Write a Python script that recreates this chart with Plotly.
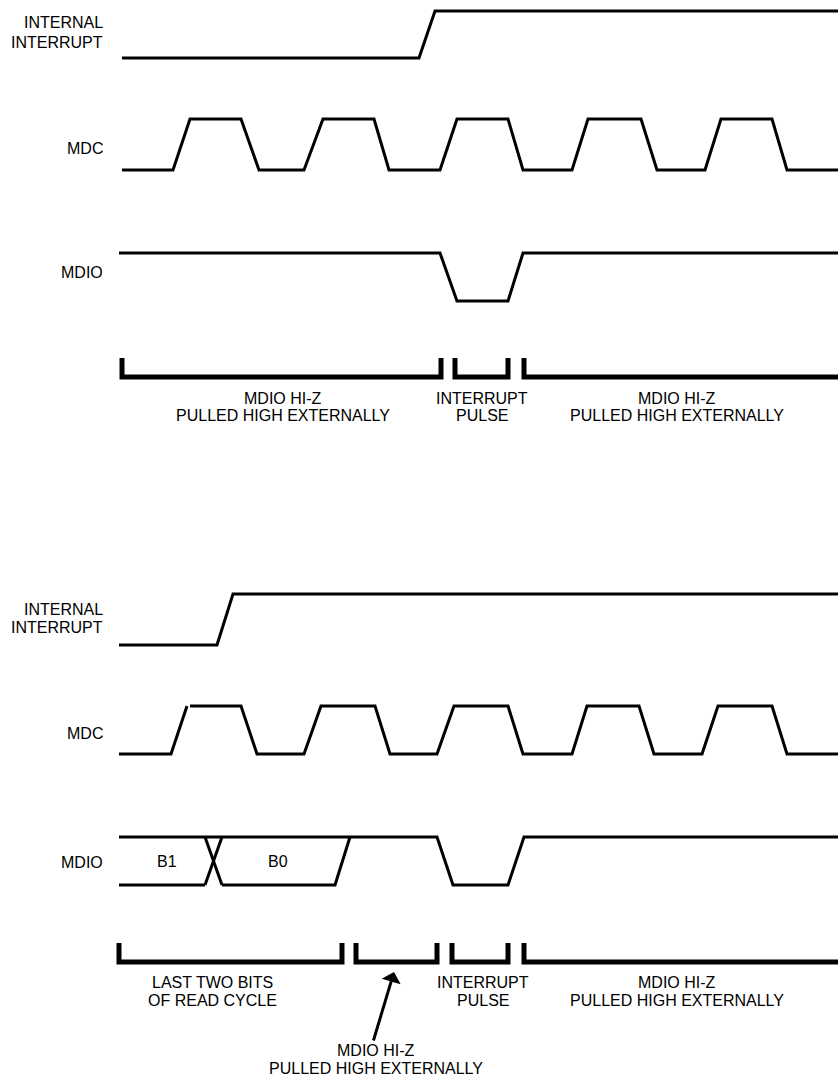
import plotly.graph_objects as go

W, H = 838, 1082
FONT = dict(family="Liberation Sans, Arial, Helvetica, sans-serif", size=16, color="black")

# ---------------- data (pixel timeline units) ----------------
# Each signal: start x, end x, low level y, high level y, starting state, transitions (begin, end)
top_int = dict(x0=122, x1=838, low=58, high=11, start="low", edges=[(419, 435)])
top_mdc = dict(x0=122, x1=838, low=170, high=119, start="low",
               edges=[(173, 190), (241, 259), (304, 323), (374, 389), (440, 457),
                      (508, 523), (572, 588), (641, 657), (705, 721), (772, 787)])
top_mdio = dict(x0=119, x1=838, low=301, high=253, start="high", edges=[(440, 457), (508, 523)])

bot_int = dict(x0=119, x1=838, low=645, high=594, start="low", edges=[(217, 233)])
bot_mdc = dict(x0=119, x1=838, low=754, high=706, start="low",
               edges=[(171, 187), (241, 257), (304, 321), (375, 390), (437, 454),
                      (508, 523), (572, 587), (639, 654), (702, 718), (772, 787)],
               gaps={0: 3})
bot_mdio = dict(x0=350, x1=838, low=885, high=837, start="high", edges=[(437, 453), (508, 524)])
# bus section of bottom MDIO (B1 / B0 bits)
bus_x0, bus_cross = 119, (205, 222)
bus_end_low, bus_end_high = 335, 350
bus_labels = ["B1", "B0"]
bus_label_x = [167, 278]

# Brackets: (left, right) spans, tick top / bar y
top_brackets = [(122, 441), (455, 508), (524, 845)]
top_br_y = (358, 377)
top_br_text = [["MDIO HI-Z", "PULLED HIGH EXTERNALLY"], ["INTERRUPT", "PULSE"],
               ["MDIO HI-Z", "PULLED HIGH EXTERNALLY"]]
top_br_text_x = [283, 482, 677]
top_br_text_y = [398, 415]

bot_brackets = [(119, 342), (356, 437), (452, 508), (524, 845)]
bot_br_y = (943, 962)
bot_br_text = [["LAST TWO BITS", "OF READ CYCLE"], None, ["INTERRUPT", "PULSE"],
               ["MDIO HI-Z", "PULLED HIGH EXTERNALLY"]]
bot_br_text_x = [212, None, 483, 677]
bot_br_text_y = [982, 1000]

arrow_tail, arrow_tip = (373, 1042), (394, 972)
arrow_text = ["MDIO HI-Z", "PULLED HIGH EXTERNALLY"]
arrow_text_x, arrow_text_y = 376, [1050, 1068]

# signal names: (lines, y positions)
signal_labels = [
    (["INTERNAL", "INTERRUPT"], [22, 42]),
    (["MDC"], [148]),
    (["MDIO"], [272]),
    (["INTERNAL", "INTERRUPT"], [609, 627]),
    (["MDC"], [733]),
    (["MDIO"], [862]),
]
label_right = 105


def wave(sig):
    lv = {"low": sig["low"], "high": sig["high"]}
    gaps = sig.get("gaps", {})
    state = sig["start"]
    xs, ys = [sig["x0"]], [lv[state]]
    for i, (a, b) in enumerate(sig["edges"]):
        xs.append(a); ys.append(lv[state])
        state = "high" if state == "low" else "low"
        xs.append(b); ys.append(lv[state])
        if i in gaps:
            xs += [None, b + gaps[i]]; ys += [None, lv[state]]
    xs.append(sig["x1"]); ys.append(lv[state])
    return xs, ys


fig = go.Figure()


def add_line(xs, ys, width=3):
    fig.add_trace(go.Scatter(x=xs, y=ys, mode="lines", connectgaps=False,
                             line=dict(color="black", width=width),
                             hoverinfo="skip", showlegend=False))


for s in [top_int, top_mdc, top_mdio, bot_int, bot_mdc, bot_mdio]:
    xs, ys = wave(s)
    add_line(xs, ys)

# bus lines
hi, lo = bot_mdio["high"], bot_mdio["low"]
add_line([bus_x0, bus_end_high], [hi, hi])
add_line([bus_x0, bus_cross[0]], [lo, lo])
add_line([bus_cross[1], bus_end_low, bus_end_high], [lo, lo, hi])
add_line([bus_cross[0], bus_cross[1]], [hi, lo])
add_line([bus_cross[0], bus_cross[1]], [lo, hi])


def add_brackets(spans, yy):
    for a, b in spans:
        add_line([a, a, b, b], [yy[0], yy[1], yy[1], yy[0]], width=5)


add_brackets(top_brackets, top_br_y)
add_brackets(bot_brackets, bot_br_y)

ann = []


def text(t, x, y, anchor="center"):
    ann.append(dict(text=t, x=x, y=y, xref="x", yref="y", showarrow=False,
                    xanchor=anchor, yanchor="middle", font=FONT))


for lines, ys in signal_labels:
    for t, y in zip(lines, ys):
        text(t, label_right, y, "right")

for lines, x in zip(top_br_text, top_br_text_x):
    for t, y in zip(lines, top_br_text_y):
        text(t, x, y)
for lines, x in zip(bot_br_text, bot_br_text_x):
    if lines:
        for t, y in zip(lines, bot_br_text_y):
            text(t, x, y)
for t, x in zip(bus_labels, bus_label_x):
    text(t, x, (hi + lo) / 2)
for t, y in zip(arrow_text, arrow_text_y):
    text(t, arrow_text_x, y)

ann.append(dict(x=arrow_tip[0], y=arrow_tip[1], ax=arrow_tail[0], ay=arrow_tail[1],
                xref="x", yref="y", axref="x", ayref="y", showarrow=True, text="",
                arrowhead=1, arrowsize=1.1, arrowwidth=3, arrowcolor="black"))

fig.update_layout(
    width=W, height=H, autosize=False,
    margin=dict(l=0, r=0, t=0, b=0, pad=0),
    paper_bgcolor="white", plot_bgcolor="white",
    xaxis=dict(range=[0, W], visible=False, fixedrange=True),
    yaxis=dict(range=[H, 0], visible=False, fixedrange=True),
    annotations=ann,
)
fig.write_html(
    "out.html",
    config={"displayModeBar": False, "staticPlot": True},
    post_script="document.body.style.margin='0';document.body.style.overflow='hidden';",
)
